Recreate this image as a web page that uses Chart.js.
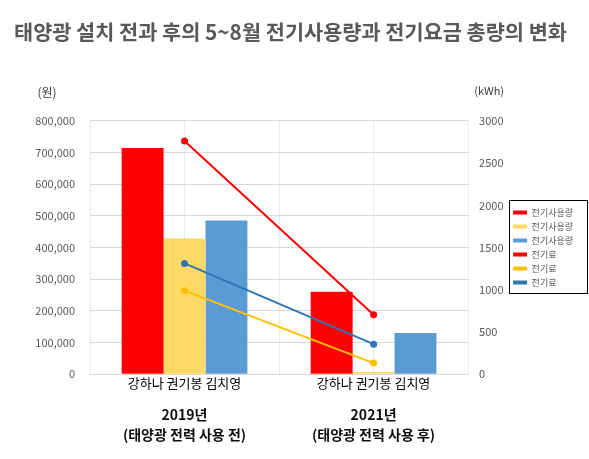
<!DOCTYPE html>
<html>
<head>
<meta charset="utf-8">
<script src="https://cdn.jsdelivr.net/npm/chart.js@4.4.1/dist/chart.umd.min.js"></script>
<style>
html, body { margin: 0; padding: 0; background: #ffffff; }
#wrap { width: 589px; height: 459px; }
</style>
</head>
<body>
<div id="wrap"><canvas id="solarChart"></canvas></div>
<script>

// ================= DATA =================

const years = ["2019", "2021"];

const people = ["강하나", "권기봉", "김치영"];

const yearLabels = [
  ["2019년", "(태양광 전력 사용 전)"],
  ["2021년", "(태양광 전력 사용 후)"]
];

// 전기사용량 (kWh), right axis
const usageKang = [2680, 976];
const usageKwon = [1607, 25];
const usageKim = [1821, 488];

// 전기료 (원), left axis
const feeKang = [737000, 188000];
const feeKwon = [264000, 35000];
const feeKim = [350000, 95000];

const wonMax = 800000;
const wonStep = 100000;
const kwhMax = 3000;
const kwhStep = 500;

const FONT = "'Noto Sans CJK KR', 'Noto Sans', sans-serif";


// ================= PLUGINS =================

// unit labels above both axes + black frame round the legend
const extras = {
  id: "extras",
  afterDraw(chart){
    const ctx = chart.ctx;
    const area = chart.chartArea;
    ctx.save();
    ctx.fillStyle = "#404040";
    ctx.textAlign = "center";
    ctx.textBaseline = "middle";
    ctx.font = "12px " + FONT;
    ctx.fillText("(원)", area.left - 43, area.top - 29);
    ctx.font = "11px " + FONT;
    ctx.fillText("(kWh)", area.right + 21, area.top - 30);

    const boxes = chart.legend.legendHitBoxes;
    if(boxes && boxes.length){
      const top = boxes[0].top - 8;
      const last = boxes[boxes.length - 1];
      const bottom = last.top + last.height + 6;
      const left = boxes[0].left - 4;
      ctx.strokeStyle = "#000000";
      ctx.lineWidth = 1;
      ctx.strokeRect(Math.round(left) + 0.5, Math.round(top) + 0.5,
        chart.width - 2 - Math.round(left), Math.round(bottom - top));
    }
    ctx.restore();
  }
};


// ================= CHART =================

const solarChart = document.getElementById("solarChart");

new Chart(solarChart, {

  type: "bar",

  data: {

    labels: years,

    datasets: [

      { label: "전기사용량", data: usageKang, backgroundColor: "#FF0000", yAxisID: "yKwh", order: 1 },
      { label: "전기사용량", data: usageKwon, backgroundColor: "#FFD966", yAxisID: "yKwh", order: 1 },
      { label: "전기사용량", data: usageKim, backgroundColor: "#5B9BD5", yAxisID: "yKwh", order: 1 },

      { type: "line", label: "전기료", data: feeKang, borderColor: "#FF0000", backgroundColor: "#FF0000",
        borderWidth: 2, pointRadius: 2.5, yAxisID: "yWon", order: 0 },
      { type: "line", label: "전기료", data: feeKwon, borderColor: "#FFC000", backgroundColor: "#FFC000",
        borderWidth: 2, pointRadius: 2.5, yAxisID: "yWon", order: 0 },
      { type: "line", label: "전기료", data: feeKim, borderColor: "#2E75B6", backgroundColor: "#2E75B6",
        borderWidth: 2, pointRadius: 2.5, yAxisID: "yWon", order: 0 }

    ]

  },

  options: {

    responsive: true,
    maintainAspectRatio: false,
    animation: false,

    layout: {
      padding: { left: 14, right: 6, top: 0, bottom: 2 }
    },

    datasets: {
      bar: { categoryPercentage: 0.665, barPercentage: 1.0 }
    },

    plugins: {

      title: {
        display: true,
        text: "태양광 설치 전과 후의 5~8월 전기사용량과 전기요금 총량의 변화",
        align: "start",
        color: "#595959",
        font: { family: FONT, size: 20.8, weight: "bold" },
        padding: { top: 20, bottom: 76 }
      },

      legend: {
        position: "right",
        align: "center",
        fullSize: false,
        labels: {
          color: "#595959",
          font: { family: FONT, size: 9 },
          boxWidth: 14,
          boxHeight: 4,
          padding: 5,
          sort: (a, b) => a.datasetIndex - b.datasetIndex,
          generateLabels(chart){
            const items = Chart.defaults.plugins.legend.labels.generateLabels(chart);
            items.forEach(item => { item.lineWidth = 0; });
            return items;
          }
        }
      },

      tooltip: { enabled: false }

    },

    scales: {

      x: {
        offset: true,
        grid: { offset: true, color: "#ebebeb", drawTicks: false },
        border: { color: "#d9d9d9" },
        ticks: {
          color: "#000000",
          font: { family: FONT, size: 13 },
          padding: 1,
          callback: () => people.join(" ")
        }
      },

      xYear: {
        type: "category",
        labels: yearLabels,
        position: "bottom",
        offset: true,
        grid: { offset: false, color: "#ebebeb", drawTicks: false },
        border: { display: false },
        ticks: {
          color: "#0d0d0d",
          font: { family: FONT, size: 14, weight: "bold", lineHeight: 1.4 },
          padding: 13
        }
      },

      yWon: {
        position: "left",
        min: 0,
        max: wonMax,
        grid: { color: "#d9d9d9", drawTicks: false },
        border: { display: false },
        ticks: {
          stepSize: wonStep,
          color: "#595959",
          font: { family: FONT, size: 11 },
          padding: 15,
          callback: v => v.toLocaleString("en-US")
        },
        afterFit(scale){ scale.width = 76; }
      },

      yKwh: {
        position: "right",
        min: 0,
        max: kwhMax,
        grid: { drawOnChartArea: false, drawTicks: false },
        border: { display: false },
        ticks: {
          stepSize: kwhStep,
          color: "#595959",
          font: { family: FONT, size: 11 },
          padding: 11,
          callback: v => String(v)
        },
        afterFit(scale){ scale.width = 40; }
      }

    }

  },

  plugins: [extras]

});

</script>
</body>
</html>
